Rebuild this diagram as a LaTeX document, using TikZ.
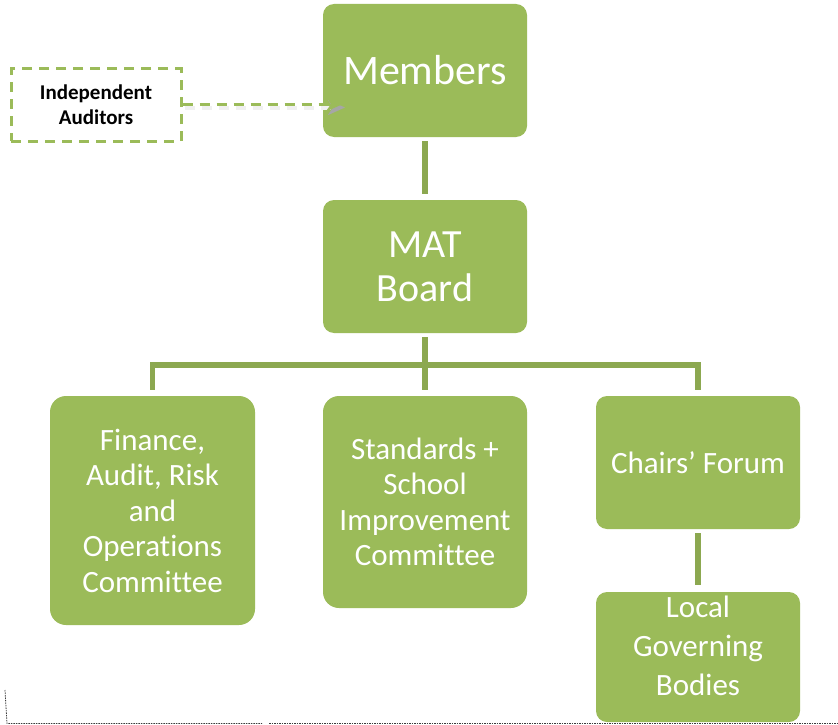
\documentclass[tikz,border=0pt]{standalone}
\usepackage{fontspec}
\setmainfont{Carlito}[Ligatures=NoCommon]
\usetikzlibrary{arrows.meta}
\definecolor{boxgreen}{RGB}{155,187,89}
\definecolor{linegreen}{RGB}{140,168,80}
\definecolor{dotgray}{RGB}{60,60,60}
\tikzset{
  gbox/.style={fill=boxgreen, draw=none, text=white, align=center, inner sep=0pt, anchor=center},
  bigtext/.style={font=\fontsize{42}{46}\selectfont},
  medtext/.style={font=\fontsize{40}{44}\selectfont},
  smalltext/.style={font=\fontsize{31}{35.5}\selectfont},
  conn/.style={draw=linegreen, line width=5.5pt},
  dashgreen/.style={draw=boxgreen, line width=3pt, dash pattern=on 10pt off 7pt},
  dashshadow/.style={draw=black!6, line width=4pt, dash pattern=on 10pt off 7pt},
  dotline/.style={draw=dotgray, line width=0.8pt, dash pattern=on 1.5pt off 1pt}
}
\begin{document}
\begin{tikzpicture}[x=1pt,y=-1pt]
\useasboundingbox (0,0) rectangle (838,725);
% boxes
\node[gbox, bigtext, minimum width=204pt, minimum height=133pt, rounded corners=11pt] (members) at (425,70.5) {Members};
\node[gbox, medtext, minimum width=204pt, minimum height=133pt, rounded corners=11pt] (mat) at (425,266.5) {MAT\\Board};
\node[gbox, smalltext, minimum width=205pt, minimum height=229pt, rounded corners=16pt] (fin) at (152.5,510.5) {Finance,\\Audit, Risk\\and\\Operations\\Committee};
\node[gbox, smalltext, minimum width=204pt, minimum height=212pt, rounded corners=16pt] (std) at (425,502) {Standards +\\School\\Improvement\\Committee};
\node[gbox, smalltext, minimum width=204pt, minimum height=133pt, rounded corners=11pt] (chf) at (698,462.5) {Chairs’ Forum};
\node[gbox, minimum width=204pt, minimum height=130pt, rounded corners=11pt,
  label={[font=\fontsize{31}{39}\selectfont, text=white, align=center, yshift=11pt]center:Local\\Governing\\Bodies}] (lgb) at (698,657) {};
% auditors
\node[dashgreen, minimum width=170pt, minimum height=72pt, align=center, inner sep=0pt,
  font=\fontsize{21}{25}\selectfont\bfseries, text=black] (aud) at (96,105) {Independent\\Auditors};
\coordinate (arrtip) at (343,104);
\coordinate (shtip) at (345,107.5);
% connectors
\draw[conn, shorten <=4pt, shorten >=6pt] (members.south) -- (mat.north);
\draw[conn, shorten <=4pt, shorten >=6pt] (mat.south) -- (std.north);
\draw[conn, shorten <=6pt, shorten >=6pt] (fin.north) -- ++(0,-31) -| (chf.north);
\draw[conn, shorten <=4pt, shorten >=7pt] (chf.south) -- (lgb.north);
\draw[dashshadow, shorten <=2pt, -{Stealth[length=17pt,width=15pt,inset=5pt,color=black!35]}] (aud.east |- shtip) -- (shtip);
\draw[dashgreen, -{Stealth[length=17pt,width=15pt,inset=5pt]}] (aud.east |- arrtip) -- (arrtip);
% bottom dotted frame
\draw[dotline] (5,690) -- (7,723.5) -- (262,723.5);
\draw[dotline] (269,723.5) -- (838,723.5);
\end{tikzpicture}
\end{document}
